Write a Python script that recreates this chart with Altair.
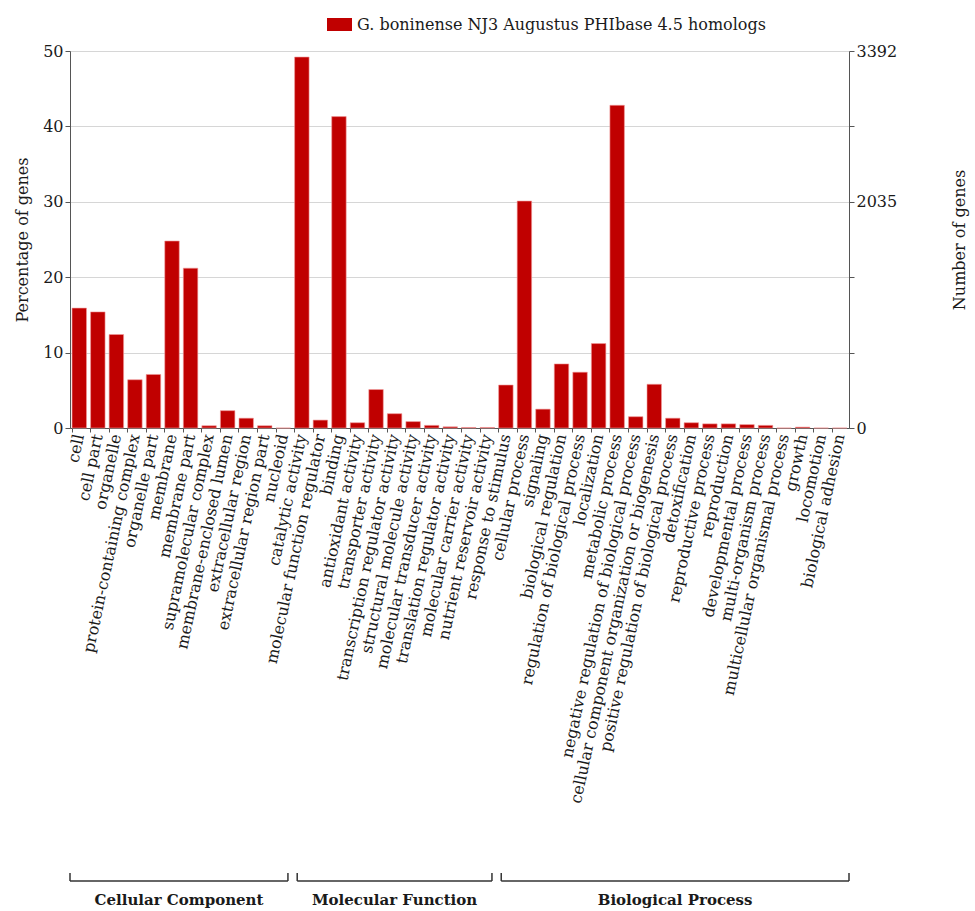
import altair as alt
import pandas as pd

# GO term percentages for the PHIbase homolog set, one list per ontology
cc_terms = [
    "cell", "cell part", "organelle", "protein-containing complex",
    "organelle part", "membrane", "membrane part", "supramolecular complex",
    "membrane-enclosed lumen", "extracellular region",
    "extracellular region part", "nucleoid",
]
cc_pct = [15.9, 15.4, 12.4, 6.4, 7.1, 24.8, 21.2, 0.3, 2.3, 1.3, 0.3, 0.0]

mf_terms = [
    "catalytic activity", "molecular function regulator", "binding",
    "antioxidant activity", "transporter activity",
    "transcription regulator activity", "structural molecule activity",
    "molecular transducer activity", "translation regulator activity",
    "molecular carrier activity", "nutrient reservoir activity",
]
mf_pct = [49.2, 1.05, 41.3, 0.7, 5.1, 1.9, 0.85, 0.35, 0.16, 0.07, 0.07]

bp_terms = [
    "response to stimulus", "cellular process", "signaling",
    "biological regulation", "regulation of biological process",
    "localization", "metabolic process",
    "negative regulation of biological process",
    "cellular component organization or biogenesis",
    "positive regulation of biological process", "detoxification",
    "reproductive process", "reproduction", "developmental process",
    "multi-organism process", "multicellular organismal process",
    "growth", "locomotion", "biological adhesion",
]
bp_pct = [5.7, 30.1, 2.5, 8.5, 7.4, 11.2, 42.8, 1.5, 5.8, 1.3, 0.7,
          0.55, 0.55, 0.45, 0.35, 0.0, 0.12, 0.0, 0.0]

group_names = ["Cellular Component", "Molecular Function", "Biological Process"]
series_name = "G. boninense NJ3 Augustus PHIbase 4.5 homologs"
total_genes = 6784          # 50 % of the set = 3392 genes
pct_ticks = [0, 10, 20, 30, 40, 50]

terms = cc_terms + mf_terms + bp_terms
pct = cc_pct + mf_pct + bp_pct
n_terms = len(terms)

df = pd.DataFrame({
    "term": terms,
    "pct": pct,
    "count": [p * total_genes / 100 for p in pct],
    "series": series_name,
})

# ontology spans along a term-index axis (band edges fall on integers)
sizes = [len(cc_terms), len(mf_terms), len(bp_terms)]
starts = [sum(sizes[:i]) for i in range(len(sizes))]
ends = [s + k for s, k in zip(starts, sizes)]
inset = 0.25
groups = pd.DataFrame({
    "group": group_names,
    "x0": [s + inset if s > 0 else s for s in starts],
    "x1": [e - inset if e < n_terms else e for e in ends],
})
groups["mid"] = (groups["x0"] + groups["x1"]) / 2

FONT = "DejaVu Serif"
TEXT = "#1a1a1a"
AXIS = "#555555"
RED = "#c00000"
W, H = 779, 377

band_scale = alt.Scale(paddingInner=0.22, paddingOuter=0.11)

x_axis = alt.Axis(
    title=None, labelAngle=282, labelFont=FONT, labelFontSize=16,
    labelColor=TEXT, labelOverlap=False, labelLimit=1000, labelPadding=2,
    tickColor=AXIS, tickSize=4, domainColor=AXIS, bandPosition=0,
)

left_axis = alt.Axis(
    title="Percentage of genes", titleFont=FONT, titleFontSize=16,
    titleFontWeight="normal", titleColor=TEXT, titlePadding=12,
    values=pct_ticks, labelFont=FONT, labelFontSize=16, labelColor=TEXT,
    labelPadding=2, tickColor=AXIS, tickSize=5, domainColor=AXIS,
    grid=True, gridColor="#d6d6d6",
)

bars = alt.Chart(df).mark_bar(stroke="#f29a9a", strokeWidth=0.6).encode(
    x=alt.X("term:N", sort=terms, scale=band_scale, axis=x_axis),
    y=alt.Y("pct:Q", scale=alt.Scale(domain=[0, 50], nice=False), axis=left_axis),
    color=alt.Color(
        "series:N",
        scale=alt.Scale(range=[RED]),
        legend=alt.Legend(
            title=None, orient="none", legendX=257, legendY=-39,
            symbolType="M-1,-0.52H1V0.52H-1Z", symbolSize=625,
            symbolStrokeWidth=0, labelFont=FONT, labelFontSize=16,
            labelColor=TEXT, labelOffset=5, labelLimit=1000,
        ),
    ),
)

count_ticks = [t * total_genes / 100 for t in pct_ticks]
right_axis = alt.Axis(
    orient="right", title="Number of genes", titleFont=FONT,
    titleFontSize=16, titleFontWeight="normal", titleColor=TEXT,
    titleAngle=270, titlePadding=71, values=count_ticks, format="d",
    labelExpr=("datum.value < 1 || abs(datum.value - 2035.2) < 1 || "
               "datum.value > 3391 ? format(datum.value, 'd') : ''"),
    labelFont=FONT, labelFontSize=16, labelColor=TEXT, labelPadding=2,
    tickColor=AXIS, tickSize=5, domainColor=AXIS, grid=False,
)

counts = alt.Chart(df).mark_bar(opacity=0).encode(
    x=alt.X("term:N", sort=terms, scale=band_scale, axis=None),
    y=alt.Y("count:Q", scale=alt.Scale(domain=[0, total_genes / 2], nice=False),
            axis=right_axis),
)

idx_scale = alt.Scale(domain=[0, n_terms], nice=False, zero=False)

bracket_line = alt.Chart(groups).mark_rule(color="#333333", strokeWidth=1.5).encode(
    x=alt.X("x0:Q", scale=idx_scale, axis=None),
    x2="x1:Q",
    y=alt.value(830),
)

bracket_ends = alt.Chart(groups).transform_fold(
    ["x0", "x1"], as_=["side", "xpos"]
).mark_rule(color="#333333", strokeWidth=1.5).encode(
    x=alt.X("xpos:Q", scale=idx_scale, axis=None),
    y=alt.value(822),
    y2=alt.value(830),
)

group_labels = alt.Chart(groups).mark_text(
    font=FONT, fontSize=15, fontWeight="bold", color=TEXT, baseline="middle"
).encode(
    x=alt.X("mid:Q", scale=idx_scale, axis=None),
    y=alt.value(849),
    text="group:N",
)

chart = alt.layer(
    bars, counts, bracket_line, bracket_ends, group_labels
).resolve_scale(
    x="independent", y="independent"
).properties(
    width=W, height=H,
    padding={"left": 14, "top": 12, "right": 3, "bottom": 2},
).configure_view(
    stroke=AXIS, strokeWidth=1
).configure(background="white")

chart.save("out.html", embed_options={"renderer": "svg", "actions": False})
